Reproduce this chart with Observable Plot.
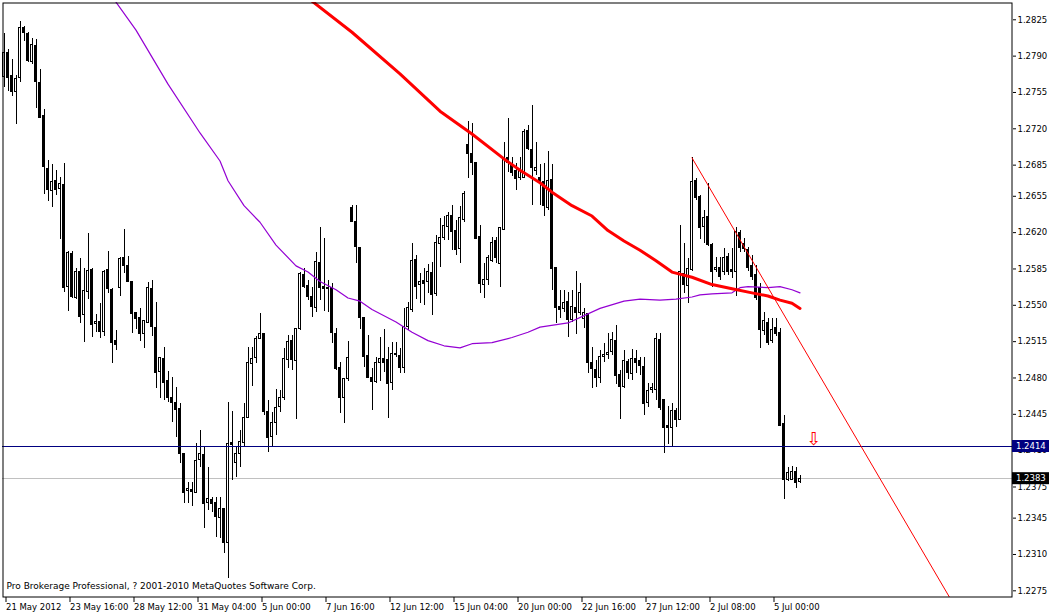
<!DOCTYPE html>
<html><head><meta charset="utf-8">
<script src="https://cdn.jsdelivr.net/npm/d3@7"></script>
<script src="https://cdn.jsdelivr.net/npm/@observablehq/plot@0.6"></script>
<style>
html,body{margin:0;padding:0;background:#fff;}
#chart svg{display:block;}
</style></head><body><div id="chart"></div>
<script>
// 4-hour EURUSD bars, 21 May 2012 .. 5 Jul 2012 (bar index 0..199)
const opens = [1.2770,1.2793,1.2771,1.2755,1.2769,1.2817,1.2811,1.2784,1.2800,1.2764,
 1.2732,1.2681,1.2660,1.2670,1.2662,1.2666,1.2568,1.2599,1.2557,1.2582,
 1.2541,1.2563,1.2584,1.2532,1.2534,1.2524,1.2584,1.2565,1.2516,1.2567,
 1.2596,1.2588,1.2572,1.2543,1.2538,1.2522,1.2533,1.2566,1.2528,1.2486,
 1.2498,1.2477,1.2461,1.2456,1.2450,1.2407,1.2371,1.2372,1.2369,1.2401,
 1.2406,1.2360,1.2362,1.2360,1.2345,1.2354,1.2321,1.2417,1.2398,1.2407,
 1.2417,1.2441,1.2493,1.2499,1.2518,1.2522,1.2447,1.2423,1.2437,1.2452,
 1.2461,1.2497,1.2516,1.2496,1.2527,1.2579,1.2569,1.2558,1.2547,1.2591,
 1.2568,1.2567,1.2567,1.2522,1.2490,1.2461,1.2479,1.2644,1.2630,1.2605,
 1.2538,1.2501,1.2480,1.2476,1.2494,1.2498,1.2497,1.2475,1.2502,1.2501,
 1.2490,1.2529,1.2545,1.2594,1.2570,1.2573,1.2572,1.2581,1.2561,1.2609,
 1.2615,1.2625,1.2636,1.2622,1.2604,1.2632,1.2704,1.2696,1.2687,1.2616,
 1.2570,1.2574,1.2593,1.2612,1.2590,1.2623,1.2692,1.2686,1.2679,1.2673,
 1.2673,1.2718,1.2700,1.2679,1.2673,1.2669,1.2644,1.2671,1.2586,1.2548,
 1.2546,1.2553,1.2536,1.2547,1.2543,1.2537,1.2542,1.2494,1.2488,1.2480,
 1.2500,1.2502,1.2505,1.2516,1.2483,1.2471,1.2495,1.2484,1.2498,1.2496,
 1.2491,1.2456,1.2468,1.2468,1.2517,1.2459,1.2434,1.2432,1.2448,1.2440,
 1.2580,1.2569,1.2584,1.2670,1.2654,1.2625,1.2635,1.2608,1.2584,1.2586,
 1.2582,1.2597,1.2584,1.2582,1.2620,1.2609,1.2603,1.2588,1.2579,1.2567,
 1.2525,1.2533,1.2516,1.2528,1.2523,1.2436,1.2382,1.2382,1.2389,1.2380];
const highs = [1.2812,1.2796,1.2787,1.2771,1.2823,1.2819,1.2813,1.2807,1.2806,1.2777,
 1.2739,1.2689,1.2686,1.2680,1.2673,1.2687,1.2602,1.2602,1.2585,1.2595,
 1.2585,1.2619,1.2585,1.2541,1.2552,1.2584,1.2602,1.2566,1.2526,1.2596,
 1.2623,1.2597,1.2573,1.2543,1.2547,1.2535,1.2572,1.2574,1.2553,1.2500,
 1.2509,1.2486,1.2480,1.2471,1.2455,1.2407,1.2379,1.2379,1.2417,1.2429,
 1.2414,1.2394,1.2365,1.2365,1.2365,1.2354,1.2456,1.2448,1.2413,1.2429,
 1.2455,1.2509,1.2509,1.2520,1.2542,1.2522,1.2458,1.2447,1.2469,1.2468,
 1.2508,1.2521,1.2521,1.2527,1.2582,1.2585,1.2574,1.2567,1.2601,1.2625,
 1.2614,1.2574,1.2571,1.2528,1.2495,1.2477,1.2515,1.2646,1.2646,1.2605,
 1.2538,1.2521,1.2489,1.2500,1.2519,1.2527,1.2509,1.2514,1.2514,1.2508,
 1.2547,1.2553,1.2610,1.2598,1.2581,1.2585,1.2589,1.2591,1.2617,1.2634,
 1.2636,1.2639,1.2646,1.2632,1.2645,1.2660,1.2727,1.2725,1.2687,1.2627,
 1.2590,1.2598,1.2615,1.2615,1.2624,1.2707,1.2730,1.2692,1.2687,1.2692,
 1.2719,1.2723,1.2742,1.2707,1.2686,1.2687,1.2698,1.2686,1.2586,1.2564,
 1.2564,1.2562,1.2564,1.2583,1.2571,1.2547,1.2542,1.2509,1.2497,1.2506,
 1.2513,1.2523,1.2524,1.2531,1.2487,1.2506,1.2498,1.2507,1.2506,1.2500,
 1.2500,1.2475,1.2475,1.2523,1.2523,1.2459,1.2453,1.2455,1.2451,1.2627,
 1.2610,1.2595,1.2692,1.2672,1.2656,1.2641,1.2667,1.2610,1.2596,1.2596,
 1.2605,1.2600,1.2605,1.2625,1.2622,1.2614,1.2606,1.2598,1.2588,1.2571,
 1.2543,1.2537,1.2537,1.2537,1.2528,1.2444,1.2394,1.2395,1.2394,1.2386];
const lows = [1.2760,1.2756,1.2751,1.2724,1.2765,1.2804,1.2784,1.2782,1.2740,1.2730,
 1.2657,1.2650,1.2644,1.2656,1.2613,1.2562,1.2544,1.2557,1.2556,1.2532,
 1.2514,1.2556,1.2519,1.2524,1.2518,1.2520,1.2561,1.2494,1.2506,1.2558,
 1.2581,1.2572,1.2523,1.2527,1.2515,1.2508,1.2533,1.2520,1.2470,1.2460,
 1.2458,1.2456,1.2437,1.2423,1.2398,1.2359,1.2359,1.2356,1.2369,1.2394,
 1.2335,1.2352,1.2350,1.2326,1.2325,1.2311,1.2287,1.2381,1.2384,1.2394,
 1.2413,1.2441,1.2472,1.2494,1.2518,1.2444,1.2408,1.2413,1.2425,1.2447,
 1.2458,1.2489,1.2487,1.2440,1.2526,1.2566,1.2555,1.2538,1.2543,1.2555,
 1.2544,1.2543,1.2513,1.2487,1.2446,1.2436,1.2477,1.2630,1.2590,1.2527,
 1.2490,1.2480,1.2449,1.2475,1.2477,1.2485,1.2441,1.2468,1.2500,1.2484,
 1.2484,1.2526,1.2543,1.2556,1.2552,1.2550,1.2561,1.2540,1.2558,1.2586,
 1.2612,1.2612,1.2603,1.2598,1.2590,1.2630,1.2672,1.2675,1.2614,1.2561,
 1.2557,1.2569,1.2591,1.2590,1.2567,1.2623,1.2678,1.2674,1.2661,1.2670,
 1.2672,1.2699,1.2646,1.2675,1.2646,1.2636,1.2641,1.2564,1.2532,1.2537,
 1.2543,1.2519,1.2533,1.2522,1.2540,1.2528,1.2484,1.2470,1.2471,1.2475,
 1.2495,1.2498,1.2502,1.2474,1.2440,1.2470,1.2479,1.2478,1.2484,1.2482,
 1.2444,1.2452,1.2465,1.2458,1.2449,1.2407,1.2416,1.2413,1.2432,1.2439,
 1.2561,1.2552,1.2583,1.2651,1.2613,1.2610,1.2607,1.2567,1.2582,1.2574,
 1.2579,1.2579,1.2576,1.2558,1.2601,1.2601,1.2583,1.2574,1.2555,1.2508,
 1.2521,1.2511,1.2513,1.2520,1.2434,1.2363,1.2380,1.2381,1.2374,1.2378];
const closes = [1.2793,1.2769,1.2755,1.2768,1.2817,1.2812,1.2785,1.2801,1.2765,1.2730,
 1.2683,1.2661,1.2669,1.2661,1.2667,1.2567,1.2600,1.2558,1.2582,1.2539,
 1.2564,1.2583,1.2531,1.2534,1.2524,1.2582,1.2566,1.2514,1.2512,1.2595,
 1.2588,1.2572,1.2542,1.2537,1.2522,1.2535,1.2567,1.2529,1.2485,1.2499,
 1.2475,1.2461,1.2456,1.2449,1.2407,1.2369,1.2373,1.2370,1.2400,1.2407,
 1.2359,1.2363,1.2359,1.2346,1.2354,1.2321,1.2416,1.2415,1.2407,1.2418,
 1.2441,1.2494,1.2498,1.2518,1.2522,1.2447,1.2422,1.2437,1.2451,1.2461,
 1.2498,1.2515,1.2497,1.2527,1.2580,1.2568,1.2558,1.2548,1.2592,1.2567,
 1.2566,1.2566,1.2523,1.2489,1.2461,1.2479,1.2499,1.2630,1.2606,1.2538,
 1.2500,1.2480,1.2476,1.2494,1.2498,1.2494,1.2474,1.2503,1.2503,1.2490,
 1.2529,1.2547,1.2593,1.2568,1.2572,1.2571,1.2582,1.2560,1.2610,1.2615,
 1.2626,1.2636,1.2621,1.2603,1.2634,1.2657,1.2696,1.2687,1.2614,1.2571,
 1.2574,1.2596,1.2610,1.2596,1.2624,1.2692,1.2687,1.2677,1.2672,1.2679,
 1.2717,1.2701,1.2682,1.2682,1.2668,1.2646,1.2670,1.2585,1.2547,1.2545,
 1.2552,1.2536,1.2548,1.2543,1.2562,1.2543,1.2494,1.2489,1.2480,1.2500,
 1.2502,1.2504,1.2517,1.2482,1.2471,1.2496,1.2485,1.2498,1.2494,1.2492,
 1.2455,1.2467,1.2470,1.2518,1.2451,1.2432,1.2432,1.2448,1.2440,1.2582,
 1.2570,1.2585,1.2669,1.2653,1.2624,1.2634,1.2608,1.2582,1.2586,1.2577,
 1.2596,1.2582,1.2582,1.2621,1.2605,1.2604,1.2586,1.2577,1.2557,1.2526,
 1.2535,1.2514,1.2526,1.2522,1.2434,1.2382,1.2388,1.2389,1.2379,1.2383];

// moving averages (bar index, price)
const purpleIdx = [28,33,41,49,54,56,60,64,68,73,76,79,83,86,89,92,98,102,106,110,114,117,122,127,131,134,141,149,155,159,164,168,172,174,177,182,184,186,191,194,197,199];
const purpleVal = [1.2842,1.2815,1.2763,1.2716,1.2689,1.2670,1.2646,1.2630,1.2608,1.2588,1.2582,1.2573,1.2565,1.2557,1.2554,1.2546,1.2534,1.2524,1.2516,1.2511,1.2509,1.2513,1.2514,1.2519,1.2524,1.2529,1.2533,1.2547,1.2554,1.2556,1.2555,1.2556,1.2558,1.2560,1.2561,1.2562,1.2567,1.2568,1.2567,1.2568,1.2565,1.2562];
const redIdx = [76,87,99,109,117,125,129,134,137,142,147,151,155,159,163,167,172,177,182,187,191,194,197,199];
const redVal = [1.2846,1.2813,1.2773,1.2737,1.2715,1.2691,1.2680,1.2668,1.2659,1.2646,1.2636,1.2622,1.2612,1.2603,1.2593,1.2582,1.2577,1.2570,1.2566,1.2562,1.2559,1.2555,1.2552,1.2547];

// trend line anchors, horizontal level, bid, arrow
const trendIdx = [172, 240];
const trendVal = [1.2692, 1.2245];
const levelLine = [1.2414];
const bidLine = [1.2383];
const arrowIdx = [202.5];
const arrowVal = [1.2421];

const xTickIdx = [0,16,32,48,64,80,96,112,128,144,160,176,192];
const xTickLabels = ["21 May 2012","23 May 16:00","28 May 12:00","31 May 04:00","5 Jun 00:00","7 Jun 16:00","12 Jun 12:00","15 Jun 04:00","20 Jun 00:00","22 Jun 16:00","27 Jun 12:00","2 Jul 08:00","5 Jul 00:00"];
const yTicks = [1.2825,1.2790,1.2755,1.2720,1.2685,1.2655,1.2620,1.2585,1.2550,1.2515,1.2480,1.2445,1.2410,1.2375,1.2345,1.2310,1.2275];
const copyright = "Pro Brokerage Professional, ? 2001-2010 MetaQuotes Software Corp.";

const candles = opens.map((o, i) => ({i, o, h: highs[i], l: lows[i], c: closes[i]}));
const purple = purpleIdx.map((i, k) => ({i, v: purpleVal[k]}));
const red = redIdx.map((i, k) => ({i, v: redVal[k]}));
const trend = trendIdx.map((i, k) => ({i, v: trendVal[k]}));
const arrow = arrowIdx.map((i, k) => ({i, v: arrowVal[k]}));

const W = 1049, H = 613, ML = 2, MR = 37, MT = 2, MB = 16;
const FONT = "DejaVu Sans, Verdana, sans-serif";
const f4 = d3.format(".4f");

const chart = Plot.plot({
  width: W, height: H,
  marginLeft: ML, marginRight: MR, marginTop: MT, marginBottom: MB,
  x: {type: "linear", domain: [-0.375, 252.125], label: null},
  y: {domain: [1.226856, 1.284166], label: null},
  style: {fontFamily: FONT, fontSize: "8.5px", background: "#fff", color: "#000"},
  marks: [
    Plot.ruleY(bidLine, {y: d => d, stroke: "#c0c0c0", shapeRendering: "crispEdges"}),
    Plot.ruleX(candles, {x: "i", y1: "l", y2: "h", stroke: "#000", strokeWidth: 1, shapeRendering: "crispEdges"}),
    Plot.rect(candles, {x1: d => d.i - 0.25, x2: d => d.i + 0.25, y1: "o", y2: "c",
      fill: d => d.c >= d.o ? "#fff" : "#000", stroke: "#000", strokeWidth: 1, shapeRendering: "crispEdges"}),
    Plot.ruleY(levelLine, {y: d => d, stroke: "#000080", shapeRendering: "crispEdges"}),
    Plot.line(purple, {x: "i", y: "v", stroke: "#9400d3", strokeWidth: 1.2, clip: true}),
    Plot.line(red, {x: "i", y: "v", stroke: "#ff0000", strokeWidth: 3, clip: true}),
    Plot.line(trend, {x: "i", y: "v", stroke: "#ff0000", strokeWidth: 1, clip: true}),
    Plot.text(arrow, {x: "i", y: "v", text: () => "\u21E9", fill: "#ff0000", fontSize: 18, fontFamily: "DejaVu Sans"}),
    Plot.text([copyright], {text: d => d, frameAnchor: "bottom-left", textAnchor: "start", dx: 4, dy: -9, fill: "#000", fontSize: 9}),
    Plot.frame({stroke: "#000", inset: 0.5}),
    Plot.axisY({anchor: "right", ticks: yTicks, tickFormat: f4, tickSize: 3, tickPadding: 2, fontSize: 8.5, label: null}),
    Plot.axisX({anchor: "bottom", ticks: xTickIdx, tickFormat: d => xTickLabels[xTickIdx.indexOf(d)],
      tickSize: 5, tickPadding: 1, textAnchor: "start", dx: 2, fontSize: 8.5, label: null})
  ]
});
document.getElementById("chart").appendChild(chart);

// price boxes on the right axis, positioned with the plot's own y scale
const ys = chart.scale("y");
const svg = d3.select(chart);
[[levelLine[0], "#000080"], [bidLine[0], "#000000"]].forEach(([v, col]) => {
  const y = ys.apply(v);
  const g = svg.append("g");
  g.append("rect").attr("x", W - MR).attr("y", y - 6).attr("width", MR).attr("height", 12).attr("fill", col);
  g.append("text").attr("x", W - MR + 4).attr("y", y).attr("dy", "0.36em")
    .attr("text-anchor", "start")
    .attr("fill", "#fff").attr("font-family", FONT).attr("font-size", "8.5px").text(f4(v));
});
</script></body></html>
